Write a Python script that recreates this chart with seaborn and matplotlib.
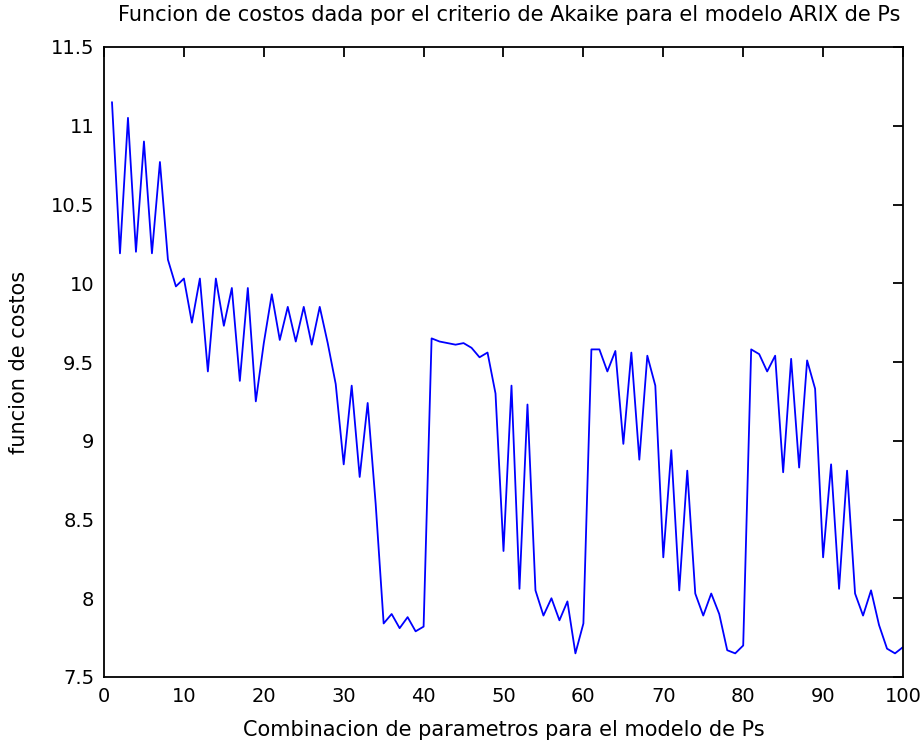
import numpy as np
import pandas as pd
import matplotlib
matplotlib.use("Agg")
import matplotlib.pyplot as plt
import seaborn as sns

combinacion = list(range(1, 101))
costos = [
    11.15, 10.19, 11.05, 10.20, 10.90, 10.19, 10.77, 10.15, 9.98, 10.03,
    9.75, 10.03, 9.44, 10.03, 9.73, 9.97, 9.38, 9.97, 9.25, 9.62,
    9.93, 9.64, 9.85, 9.63, 9.85, 9.61, 9.85, 9.62, 9.36, 8.85,
    9.35, 8.77, 9.24, 8.60, 7.84, 7.90, 7.81, 7.88, 7.79, 7.82,
    9.65, 9.63, 9.62, 9.61, 9.62, 9.59, 9.53, 9.56, 9.30, 8.30,
    9.35, 8.06, 9.23, 8.05, 7.89, 8.00, 7.86, 7.98, 7.65, 7.84,
    9.58, 9.58, 9.44, 9.57, 8.98, 9.56, 8.88, 9.54, 9.35, 8.26,
    8.94, 8.05, 8.81, 8.03, 7.89, 8.03, 7.90, 7.67, 7.65, 7.70,
    9.58, 9.55, 9.44, 9.54, 8.80, 9.52, 8.83, 9.51, 9.33, 8.26,
    8.85, 8.06, 8.81, 8.03, 7.89, 8.05, 7.83, 7.68, 7.65, 7.69,
]
xticks = [0, 10, 20, 30, 40, 50, 60, 70, 80, 90, 100]
yticks = [7.5, 8, 8.5, 9, 9.5, 10, 10.5, 11, 11.5]
ytick_labels = ["7.5", "8", "8.5", "9", "9.5", "10", "10.5", "11", "11.5"]

df = pd.DataFrame({"x": combinacion, "y": costos})

sns.set_style("white")
plt.rcParams["font.family"] = ["DejaVu Sans"]
plt.rcParams["text.color"] = "black"
plt.rcParams["axes.labelcolor"] = "black"

fig = plt.figure(figsize=(9.24, 7.42), dpi=100)
ax = fig.add_axes([104 / 924, 1 - 677 / 742, (903 - 104) / 924, (677 - 47) / 742])

sns.lineplot(data=df, x="x", y="y", ax=ax, color="#0000ff", linewidth=1.3)

ax.set_xlim(0, 100)
ax.set_ylim(7.5, 11.5)
ax.set_xticks(xticks)
ax.set_xticklabels([str(t) for t in xticks])
ax.set_yticks(yticks)
ax.set_yticklabels(ytick_labels)
ax.tick_params(direction="in", length=7, width=1.3, top=True, right=True,
               labelsize=14, colors="black", pad=7)
ax.tick_params(axis="x", pad=7)
for s in ax.spines.values():
    s.set_visible(True)
    s.set_color("black")
    s.set_linewidth(1.3)

ax.set_title("Funcion de costos dada por el criterio de Akaike para el modelo ARIX de Ps",
             fontsize=15, pad=19, color="black", x=0.507)
ax.set_xlabel("Combinacion de parametros para el modelo de Ps", fontsize=15, labelpad=10)
ax.set_ylabel("funcion de costos", fontsize=15, labelpad=16)

fig.savefig("out.png", dpi=100, facecolor="white")
